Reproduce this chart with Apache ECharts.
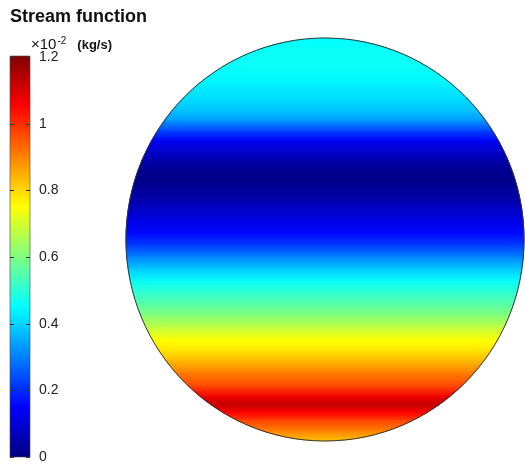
<!DOCTYPE html>
<html>
<head>
<meta charset="utf-8">
<script src="https://cdn.jsdelivr.net/npm/echarts@6/dist/echarts.min.js"></script>
<style>
html, body { margin: 0; padding: 0; background: #fff; }
#main { width: 525px; height: 464px; }
</style>
</head>
<body>
<div id="main"></div>
<script>
// vertical position across the disc (1 = top, -1 = bottom)
var posY = [1.00, 0.94, 0.86, 0.79, 0.70, 0.64, 0.59, 0.54, 0.49, 0.44, 0.39, 0.34, 0.30,
    0.25, 0.20, 0.15, 0.09, 0.03, -0.03, -0.09, -0.15, -0.21, -0.28, -0.33, -0.38, -0.44,
    -0.50, -0.55, -0.60, -0.66, -0.73, -0.78, -0.82, -0.86, -0.90, -0.95, -1.00];
// stream function, x10^-2 kg/s
var psi = [0.45, 0.46, 0.46, 0.44, 0.41, 0.38, 0.33, 0.23, 0.14, 0.09, 0.05, 0.02, 0.01,
    0.03, 0.05, 0.08, 0.12, 0.16, 0.22, 0.31, 0.39, 0.46, 0.52, 0.56, 0.61, 0.68,
    0.75, 0.78, 0.83, 0.90, 0.97, 1.07, 1.12, 1.05, 0.97, 0.90, 0.82];
var barTicks = [0, 0.2, 0.4, 0.6, 0.8, 1, 1.2];
var jet = ['#000080', '#0000ff', '#0080ff', '#00ffff', '#80ff80', '#ffff00', '#ff8000', '#ff0000', '#800000'];
var vMin = 0, vMax = 1.2;

function colorOf(v) {
    return echarts.color.lerp((v - vMin) / (vMax - vMin), jet);
}

var bands = [];
for (var i = 0; i < posY.length - 1; i++) {
    bands.push([posY[i], posY[i + 1], psi[i], psi[i + 1]]);
}

// one horizontal slice of the disc, shaded between its two samples
function renderBand(params, api) {
    var y0 = api.value(0), y1 = api.value(1);
    var n = 8, pts = [], k, y, x;
    for (k = 0; k <= n; k++) {
        y = y0 + (y1 - y0) * k / n;
        x = Math.sqrt(Math.max(0, 1 - y * y));
        pts.push(api.coord([-x, y]));
    }
    for (k = n; k >= 0; k--) {
        y = y0 + (y1 - y0) * k / n;
        x = Math.sqrt(Math.max(0, 1 - y * y));
        pts.push(api.coord([x, y]));
    }
    var grad = new echarts.graphic.LinearGradient(0, 0, 0, 1, [
        { offset: 0, color: colorOf(api.value(2)) },
        { offset: 1, color: colorOf(api.value(3)) }
    ]);
    return {
        type: 'polygon',
        shape: { points: pts },
        style: { fill: grad, stroke: grad, lineWidth: 1 }
    };
}

function renderOutline(params, api) {
    var c = api.coord([0, 0]);
    var sz = api.size([1, 1]);
    return {
        type: 'ellipse',
        shape: { cx: c[0], cy: c[1], rx: sz[0], ry: sz[1] },
        style: { fill: 'none', stroke: '#333', lineWidth: 1 },
        z2: 10
    };
}

// colorbar: jet ramp from vMin (bottom) to vMax (top)
function renderColorBar(params, api) {
    var p0 = api.coord([0, vMax]);
    var p1 = api.coord([1, vMin]);
    var stops = jet.map(function (c, j) {
        return { offset: 1 - j / (jet.length - 1), color: c };
    }).reverse();
    return {
        type: 'rect',
        shape: { x: p0[0], y: p0[1] - 1, width: p1[0] - p0[0], height: p1[1] - p0[1] + 1 },
        style: {
            fill: new echarts.graphic.LinearGradient(0, 0, 0, 1, stops),
            stroke: 'rgba(70,70,70,0.6)',
            lineWidth: 1
        }
    };
}

// colorbar ticks, inside on both edges
function renderTick(params, api) {
    var a = api.coord([0, api.value(0)]);
    var b = api.coord([1, api.value(0)]);
    var y = Math.round(a[1]) + 0.5;
    return {
        type: 'group',
        children: [
            { type: 'line', shape: { x1: a[0], y1: y, x2: a[0] + 4, y2: y }, style: { stroke: '#333', lineWidth: 1 } },
            { type: 'line', shape: { x1: b[0] - 4, y1: y, x2: b[0], y2: y }, style: { stroke: '#333', lineWidth: 1 } }
        ]
    };
}

var myChart = echarts.init(document.getElementById('main'), null, { renderer: 'canvas' });

var option = {
    animation: false,
    title: [{
        text: 'Stream function',
        left: 5,
        top: 3,
        textStyle: { fontFamily: 'Liberation Sans', fontSize: 18, fontWeight: 'bold', color: '#111' }
    }, {
        text: '{a|×10}{s|-2}{g| }{b|(kg/s)}',
        left: 26,
        top: 31,
        textStyle: {
            rich: {
                a: { fontFamily: 'Liberation Sans', fontSize: 15, fontWeight: 'normal', color: '#111' },
                s: { fontFamily: 'Liberation Sans', fontSize: 10, fontWeight: 'normal', color: '#111', verticalAlign: 'top', padding: [0, 0, 8, 1] },
                g: { fontSize: 13, width: 11 },
                b: { fontFamily: 'Liberation Sans', fontSize: 13, fontWeight: 'bold', color: '#111' }
            }
        }
    }],
    grid: [
        { left: 126, top: 38, width: 398, height: 403 },
        { left: 10, top: 57, width: 20, height: 400 }
    ],
    xAxis: [
        { type: 'value', gridIndex: 0, min: -1, max: 1, show: false },
        { type: 'value', gridIndex: 1, min: 0, max: 1, show: false }
    ],
    yAxis: [
        { type: 'value', gridIndex: 0, min: -1, max: 1, show: false },
        {
            type: 'value', gridIndex: 1, min: vMin, max: vMax, interval: 0.2,
            position: 'right',
            splitLine: { show: false },
            axisLine: { show: false },
            axisTick: { show: false },
            axisLabel: {
                margin: 9, color: '#222', fontSize: 14, fontFamily: 'Liberation Sans',
                formatter: function (v) { return String(+v.toFixed(1)); }
            }
        }
    ],
    visualMap: {
        type: 'continuous',
        show: false,
        min: vMin,
        max: vMax,
        seriesIndex: 0,
        dimension: 2,
        inRange: { color: jet }
    },
    series: [{
        type: 'custom',
        xAxisIndex: 0,
        yAxisIndex: 0,
        renderItem: renderBand,
        data: bands,
        silent: true
    }, {
        type: 'custom',
        xAxisIndex: 0,
        yAxisIndex: 0,
        renderItem: renderOutline,
        data: [[0, 0]],
        silent: true,
        z: 5
    }, {
        type: 'custom',
        xAxisIndex: 1,
        yAxisIndex: 1,
        renderItem: renderColorBar,
        data: [[0]],
        silent: true,
        clip: false,
        z: 4
    }, {
        type: 'custom',
        xAxisIndex: 1,
        yAxisIndex: 1,
        renderItem: renderTick,
        data: barTicks.map(function (t) { return [t]; }),
        silent: true,
        clip: false,
        z: 10
    }]
};
myChart.setOption(option);
</script>
</body>
</html>
